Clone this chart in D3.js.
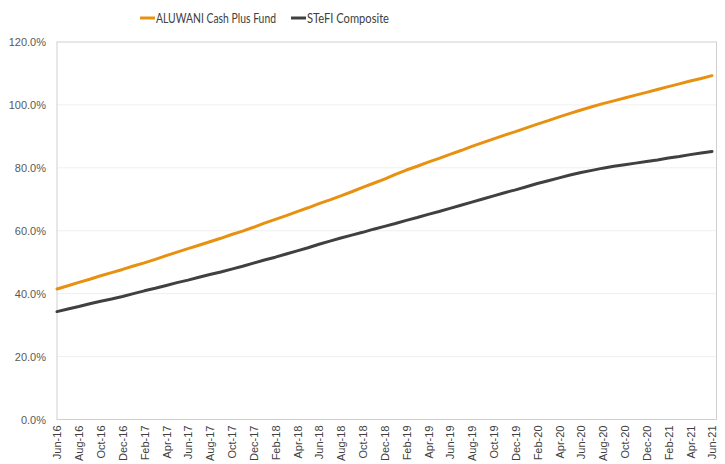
<!DOCTYPE html>
<html>
<head>
<meta charset="utf-8">
<script src="https://cdn.jsdelivr.net/npm/d3@7"></script>
<style>
  body { margin: 0; background: #fff; }
  svg { display: block; }
</style>
</head>
<body>
<svg id="chart" width="725" height="464"></svg>
<script>
const width = 725;
const height = 464;

const months = [
  "Jun-16","Jul-16","Aug-16","Sep-16","Oct-16","Nov-16","Dec-16",
  "Jan-17","Feb-17","Mar-17","Apr-17","May-17","Jun-17","Jul-17","Aug-17","Sep-17","Oct-17","Nov-17","Dec-17",
  "Jan-18","Feb-18","Mar-18","Apr-18","May-18","Jun-18","Jul-18","Aug-18","Sep-18","Oct-18","Nov-18","Dec-18",
  "Jan-19","Feb-19","Mar-19","Apr-19","May-19","Jun-19","Jul-19","Aug-19","Sep-19","Oct-19","Nov-19","Dec-19",
  "Jan-20","Feb-20","Mar-20","Apr-20","May-20","Jun-20","Jul-20","Aug-20","Sep-20","Oct-20","Nov-20","Dec-20",
  "Jan-21","Feb-21","Mar-21","Apr-21","May-21","Jun-21"
];

// cumulative return, %
const aluwani = [
  41.5, 42.5, 43.6, 44.6, 45.7, 46.7, 47.7,
  48.8, 49.8, 50.9, 52.1, 53.2, 54.3, 55.4, 56.5, 57.6, 58.8, 59.9, 61.1,
  62.4, 63.6, 64.8, 66.1, 67.3, 68.6, 69.8, 71.1, 72.4, 73.8, 75.1, 76.4,
  77.9, 79.3, 80.5, 81.8, 83.0, 84.3, 85.5, 86.8, 88.0, 89.2, 90.4, 91.5,
  92.7, 93.9, 95.0, 96.2, 97.3, 98.4, 99.4, 100.4, 101.3, 102.2, 103.1, 104.0,
  104.9, 105.8, 106.7, 107.6, 108.4, 109.3
];

const stefi = [
  34.3, 35.1, 35.9, 36.8, 37.6, 38.3, 39.1,
  40.0, 40.9, 41.7, 42.6, 43.5, 44.3, 45.2, 46.1, 46.9, 47.8, 48.7, 49.7,
  50.7, 51.6, 52.6, 53.6, 54.6, 55.7, 56.7, 57.7, 58.6, 59.5, 60.5, 61.4,
  62.3, 63.3, 64.2, 65.2, 66.1, 67.1, 68.1, 69.1, 70.1, 71.1, 72.1, 73.0,
  74.0, 75.0, 75.9, 76.8, 77.7, 78.5, 79.2, 79.9, 80.5, 81.0, 81.5, 82.0,
  82.5, 83.1, 83.6, 84.2, 84.7, 85.2
];

const yTicks = [0, 20, 40, 60, 80, 100, 120];

const seriesNames = ["ALUWANI Cash Plus Fund", "STeFI Composite"];
const seriesColors = ["#E8900F", "#404040"];

const series = [
  { name: seriesNames[0], color: seriesColors[0], values: aluwani },
  { name: seriesNames[1], color: seriesColors[1], values: stefi }
];

const plot = { left: 57, right: 716.5, top: 42, bottom: 419.5 };

const svg = d3.select("#chart")
  .attr("viewBox", [0, 0, width, height]);

const x = d3.scalePoint()
  .domain(months)
  .range([plot.left, 712]);

const y = d3.scaleLinear()
  .domain([0, 120])
  .range([plot.bottom, plot.top]);

// gridlines
svg.append("g")
  .selectAll("line")
  .data(yTicks.slice(1, -1))
  .join("line")
  .attr("x1", plot.left)
  .attr("x2", plot.right)
  .attr("y1", d => y(d))
  .attr("y2", d => y(d))
  .attr("stroke", "#efefef")
  .attr("stroke-width", 1);

// frame
svg.append("rect")
  .attr("x", plot.left)
  .attr("y", plot.top)
  .attr("width", plot.right - plot.left)
  .attr("height", plot.bottom - plot.top)
  .attr("fill", "none")
  .attr("stroke", "#cfcfcf")
  .attr("stroke-width", 1);

// y axis
const yAxis = svg.append("g")
  .attr("transform", `translate(${plot.left},0)`)
  .call(d3.axisLeft(y).tickValues(yTicks).tickSize(0).tickPadding(11)
    .tickFormat(d => d.toFixed(1) + "%"));
yAxis.select(".domain").remove();
yAxis.selectAll("text")
  .attr("fill", "#595959")
  .style("font-family", "'Liberation Sans', Arial, sans-serif")
  .style("font-size", "11px");

// x axis
const xAxis = svg.append("g")
  .attr("transform", `translate(0,${plot.bottom})`)
  .call(d3.axisBottom(x).tickValues(months.filter((d, i) => i % 2 === 0)).tickSize(0));
xAxis.select(".domain").remove();
xAxis.selectAll("text")
  .attr("transform", "rotate(-90)")
  .attr("text-anchor", "end")
  .attr("x", -6)
  .attr("y", 0)
  .attr("dy", "0.35em")
  .attr("fill", "#404040")
  .style("font-family", "'Liberation Sans', Arial, sans-serif")
  .style("font-size", "11px");

// lines
const line = d3.line()
  .x((d, i) => x(months[i]))
  .y(d => y(d));

svg.append("g")
  .selectAll("path")
  .data(series)
  .join("path")
  .attr("d", d => line(d.values))
  .attr("fill", "none")
  .attr("stroke", d => d.color)
  .attr("stroke-width", 3)
  .attr("stroke-linejoin", "round")
  .attr("stroke-linecap", "round");

// legend
const legendX = [140, 291];
const legendW = [120, 82];
const legend = svg.append("g")
  .selectAll("g")
  .data(series)
  .join("g")
  .attr("transform", (d, i) => `translate(${legendX[i]},18)`);

legend.append("line")
  .attr("x1", 0)
  .attr("x2", 15)
  .attr("stroke", d => d.color)
  .attr("stroke-width", 3);

legend.append("text")
  .attr("x", 16)
  .attr("dy", "0.35em")
  .attr("fill", "#404040")
  .attr("textLength", (d, i) => legendW[i])
  .attr("lengthAdjust", "spacingAndGlyphs")
  .style("font-family", "Lato, sans-serif")
  .style("font-size", "13px")
  .text(d => d.name);
</script>
</body>
</html>
